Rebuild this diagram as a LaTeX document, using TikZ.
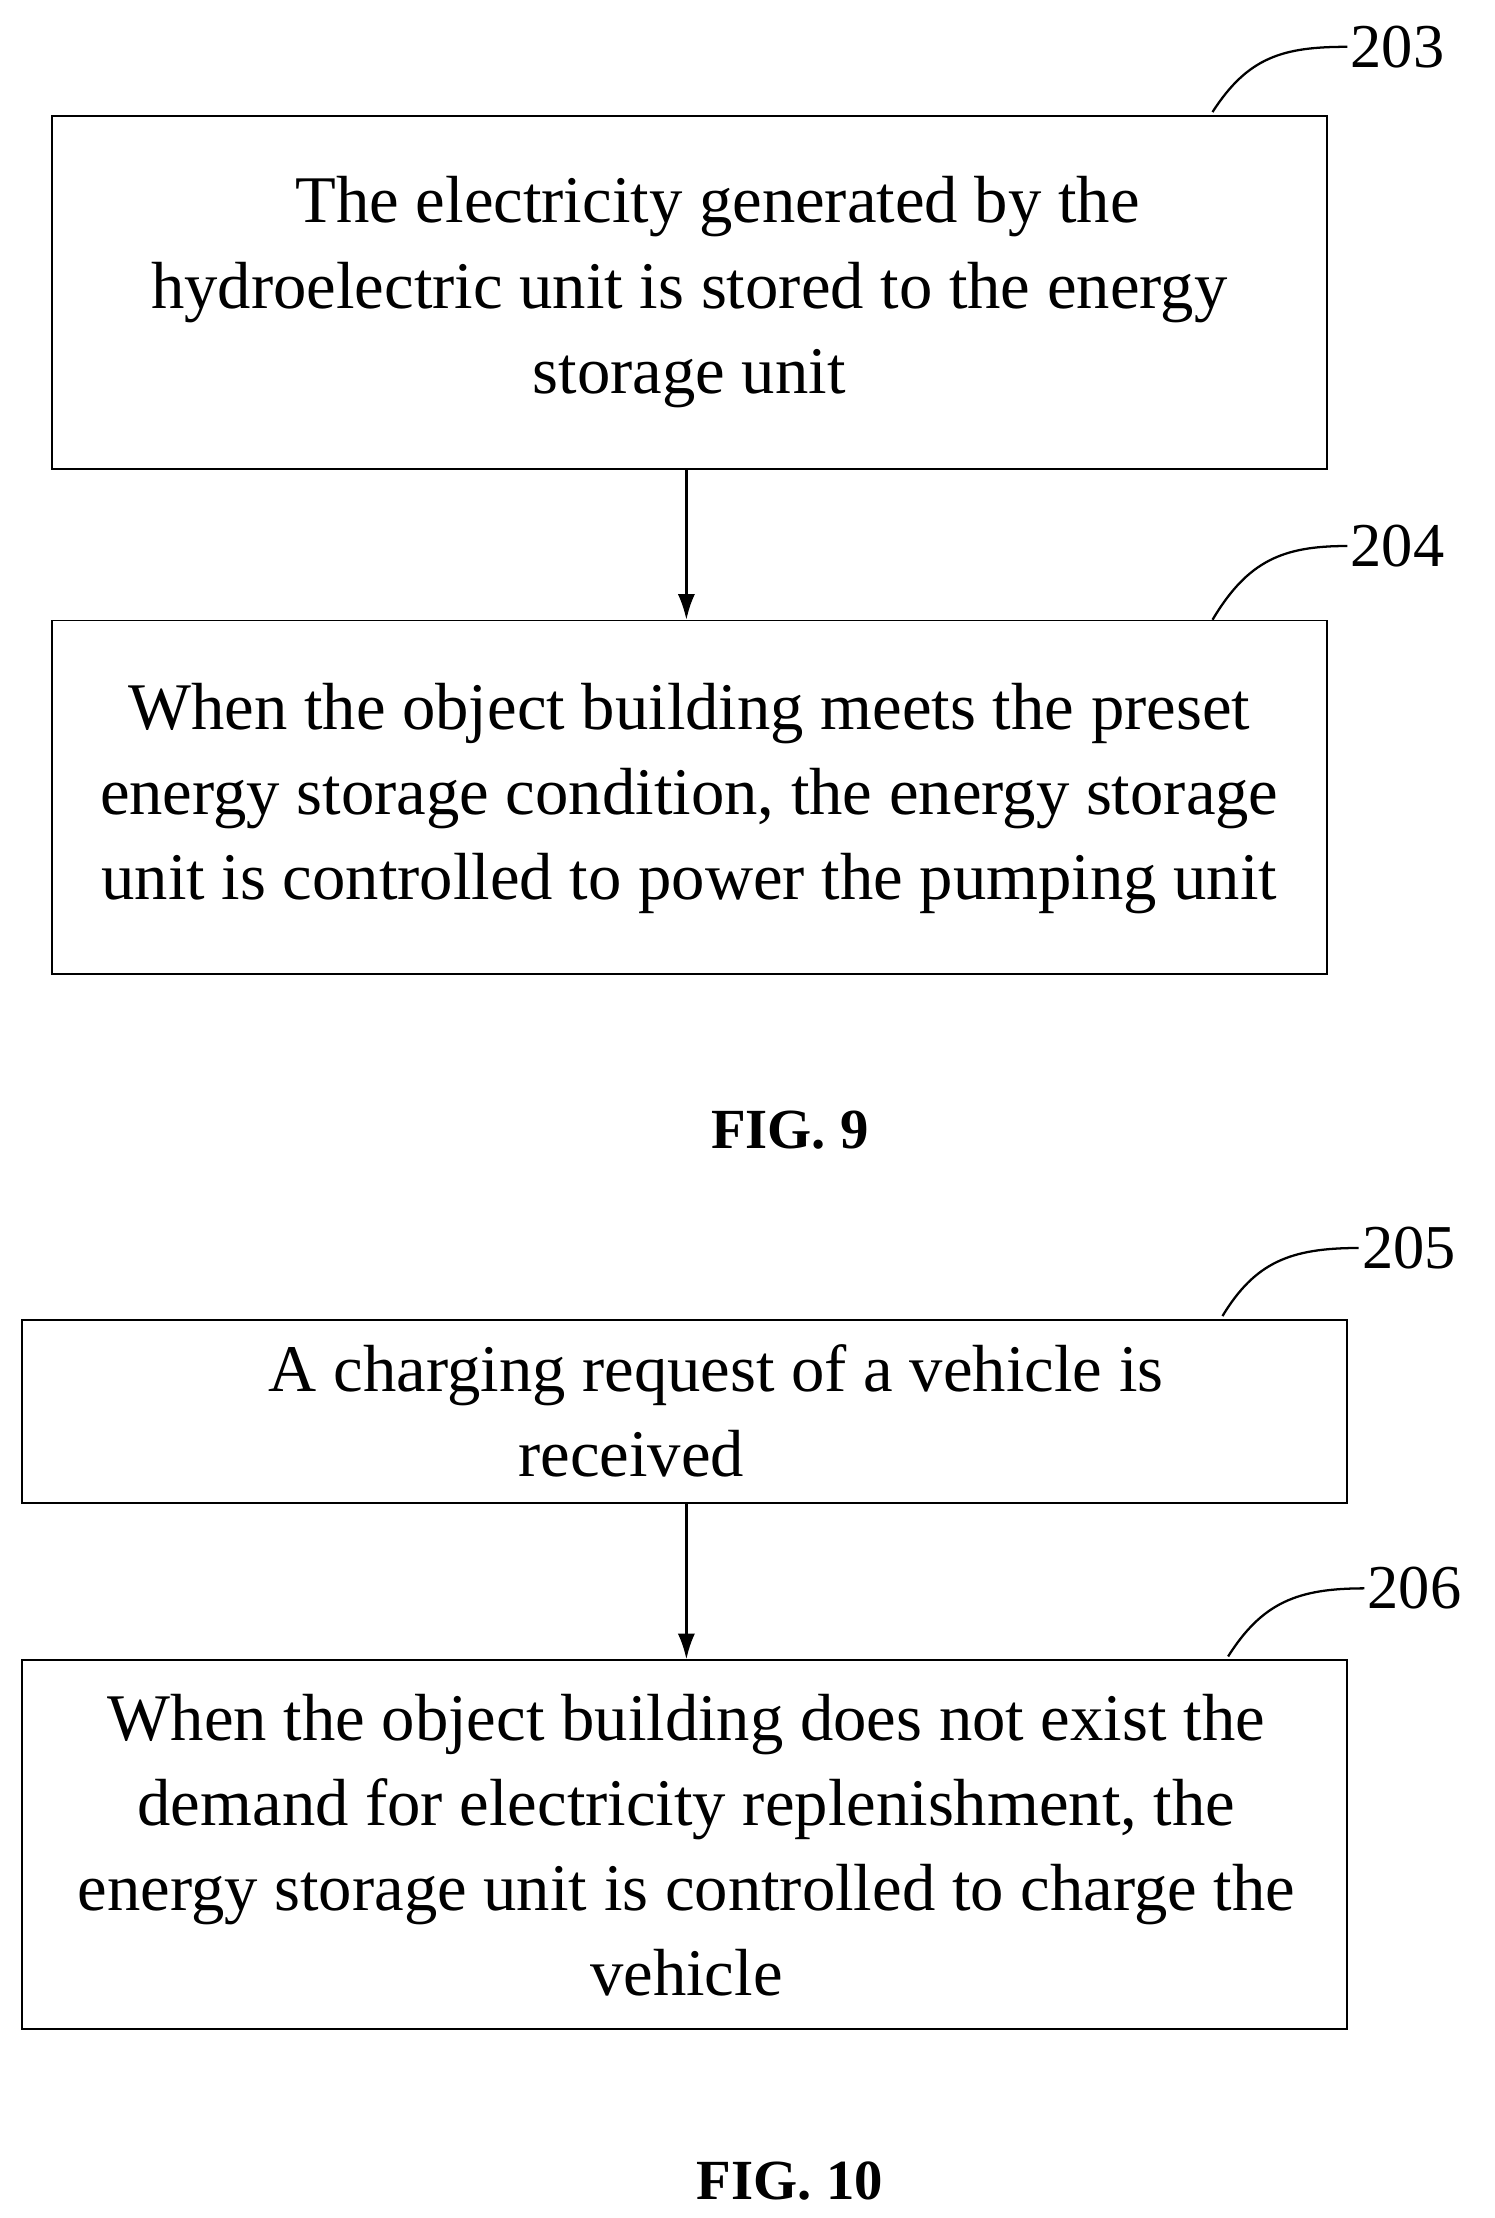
\documentclass[tikz,border=0pt]{standalone}
\usetikzlibrary{arrows.meta}
\usepackage{fontspec}
\setmainfont{Liberation Serif}
\begin{document}
\begin{tikzpicture}[x=0.5pt,y=-0.5pt,
  box/.style={draw,line width=0.6pt,inner sep=0pt},
  txt/.style={align=center,font=\fontsize{23.5}{30}\selectfont},
  lbl/.style={font=\fontsize{22}{26}\selectfont,anchor=west,inner sep=1pt},
  lead/.style={line width=0.8pt},
  arr/.style={-{Latex[length=9pt,width=6pt]},line width=0.8pt},
  fig/.style={font=\fontsize{20}{24}\selectfont\bfseries}]
\useasboundingbox (0,0) rectangle (1054,1564);
\node[box,minimum width=449.5pt,minimum height=124.5pt,anchor=north west] (b203) at (36,81) {};
\node[txt] at (486,206) {\hspace*{20pt}The electricity generated by the\\hydroelectric unit is stored to the energy\\storage unit};
\node[box,minimum width=449.5pt,minimum height=124.5pt,anchor=north west] (b204) at (36,437) {};
\node[txt] at (486,563) {When the object building meets the preset\\energy storage condition, the energy storage\\unit is controlled to power the pumping unit};
\node[fig] (f9) at (557,797) {FIG. 9};
\node[box,minimum width=467pt,minimum height=64.5pt,anchor=north west] (b205) at (15,930) {};
\node[txt] at (505,995) {A charging request of a vehicle is\\\hspace*{-60pt}received};
\node[box,minimum width=467pt,minimum height=130pt,anchor=north west] (b206) at (15,1170) {};
\node[txt] at (484,1301) {When the object building does not exist the\\demand for electricity replenishment, the\\energy storage unit is controlled to charge the\\vehicle};
\node[fig] (f10) at (557,1538) {FIG. 10};
\draw[arr] (b203.south -| 484,0) -- (b204.north -| 484,0);
\draw[arr] (b205.south -| 484,0) -- (b206.north -| 484,0);
\node[lbl] (l203) at (950,33) {203};
\node[lbl] (l204) at (950,385) {204};
\node[lbl] (l205) at (958,880) {205};
\node[lbl] (l206) at (962,1120) {206};
\draw[lead] (855,79) .. controls (880,40) and (905,33) .. (l203.west);
\draw[lead] (855,437) .. controls (880,395) and (905,385) .. (l204.west);
\draw[lead] (862,928) .. controls (885,890) and (910,880) .. (l205.west);
\draw[lead] (866,1168) .. controls (890,1130) and (915,1120) .. (l206.west);
\end{tikzpicture}
\end{document}
